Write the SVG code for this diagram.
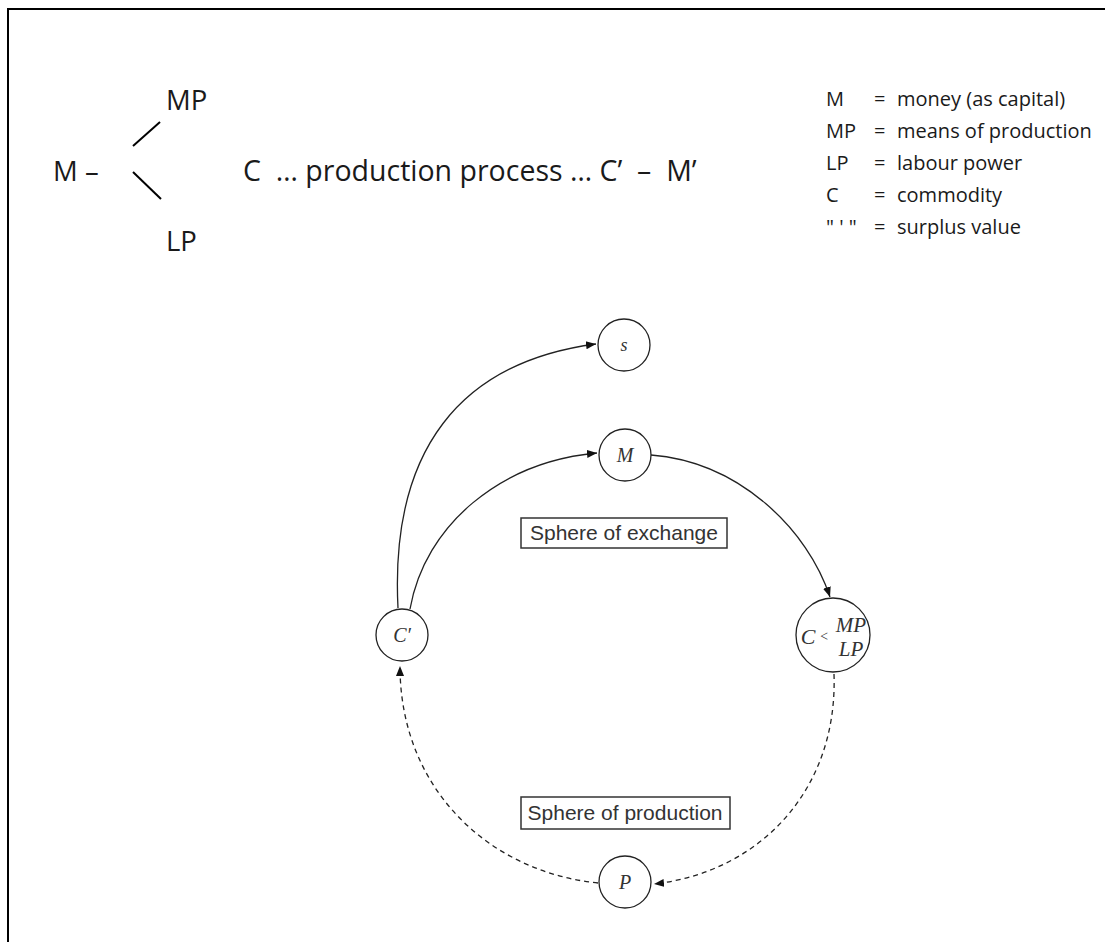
<svg xmlns="http://www.w3.org/2000/svg" width="1105" height="942" viewBox="0 0 1105 942">
<style>
.t{font-family:"Open Sans",Lato,"Liberation Sans",sans-serif;fill:#1a1a1a}
.big{font-size:27.5px}
.leg{font-size:20px}
.nd{fill:#fff;stroke:#222;stroke-width:1.3}
.it{font-family:"Liberation Serif",serif;font-style:italic;fill:#333;text-anchor:middle}
.sp{font-family:"Liberation Sans",Arial,sans-serif;font-size:21px;fill:#333;text-anchor:middle}
.box{fill:#fff;stroke:#333;stroke-width:1.5}
.c{fill:none;stroke:#222;stroke-width:1.3}
.d{stroke-dasharray:5 4}
</style>
<defs>
<marker id="ah" viewBox="0 0 10 10" refX="10" refY="5" markerWidth="10" markerHeight="10" markerUnits="userSpaceOnUse" orient="auto">
<path d="M0,1 L10,5 L0,9 z" fill="#111"/>
</marker>
</defs>
<rect width="1105" height="942" fill="#fff"/>
<path d="M8,950 V9 H1110" fill="none" stroke="#000" stroke-width="2"/>
<g id="formula">
<text class="t big" x="53" y="181">M –</text>
<text class="t big" x="166" y="110">MP</text>
<text class="t big" x="166" y="251">LP</text>
<line x1="133" y1="146" x2="160" y2="122" stroke="#000" stroke-width="2"/>
<line x1="133" y1="172" x2="161" y2="199" stroke="#000" stroke-width="2"/>
<text class="t" font-size="28.5" x="243" y="181" xml:space="preserve" style="white-space:pre">C  … production process … C’  –  M’</text>
</g>
<g id="legend" class="t leg">
<text x="826" y="106">M</text><text x="874" y="106">=</text><text x="897" y="106">money (as capital)</text>
<text x="826" y="138">MP</text><text x="874" y="138">=</text><text x="897" y="138">means of production</text>
<text x="826" y="170">LP</text><text x="874" y="170">=</text><text x="897" y="170">labour power</text>
<text x="826" y="202">C</text><text x="874" y="202">=</text><text x="897" y="202">commodity</text>
<text x="826" y="234">" ' "</text><text x="874" y="234">=</text><text x="897" y="234">surplus value</text>
</g>
<g id="connectors">
<path class="c" d="M398,608 C390,450 460,362 596,344" marker-end="url(#ah)"/>
<path class="c" d="M410,609 C425,525 500,462 597,453" marker-end="url(#ah)"/>
<path class="c" d="M651,455 C740,462 808,530 830,597" marker-end="url(#ah)"/>
<path class="c d" d="M834,674 C838,790 760,872 654,884" marker-end="url(#ah)"/>
<path class="c d" d="M598,883 C490,872 400,790 400,666" marker-end="url(#ah)"/>
</g>
<g id="node-s"><circle class="nd" cx="624" cy="345" r="26"/><text class="it" x="624" y="351" font-size="18">s</text></g>
<g id="node-M"><circle class="nd" cx="625" cy="455" r="26"/><text class="it" x="625" y="462" font-size="20">M</text></g>
<g id="node-C1"><circle class="nd" cx="402" cy="635" r="26"/><text class="it" x="402" y="642" font-size="20">C′</text></g>
<g id="node-CMPLP"><circle class="nd" cx="833" cy="635" r="37"/>
<text class="it" x="808" y="644" font-size="22">C</text>
<text class="it" x="824" y="641" font-size="14" font-style="normal">&lt;</text>
<text class="it" x="851" y="632" font-size="21">MP</text>
<text class="it" x="851" y="656" font-size="21">LP</text>
</g>
<g id="node-P"><circle class="nd" cx="625" cy="882" r="26"/><text class="it" x="625" y="889" font-size="20">P</text></g>
<g id="label-exchange"><rect class="box" x="521" y="518" width="206" height="30"/><text class="sp" x="624" y="540">Sphere of exchange</text></g>
<g id="label-production"><rect class="box" x="521" y="797" width="209" height="32"/><text class="sp" x="625" y="820">Sphere of production</text></g>
</svg>
